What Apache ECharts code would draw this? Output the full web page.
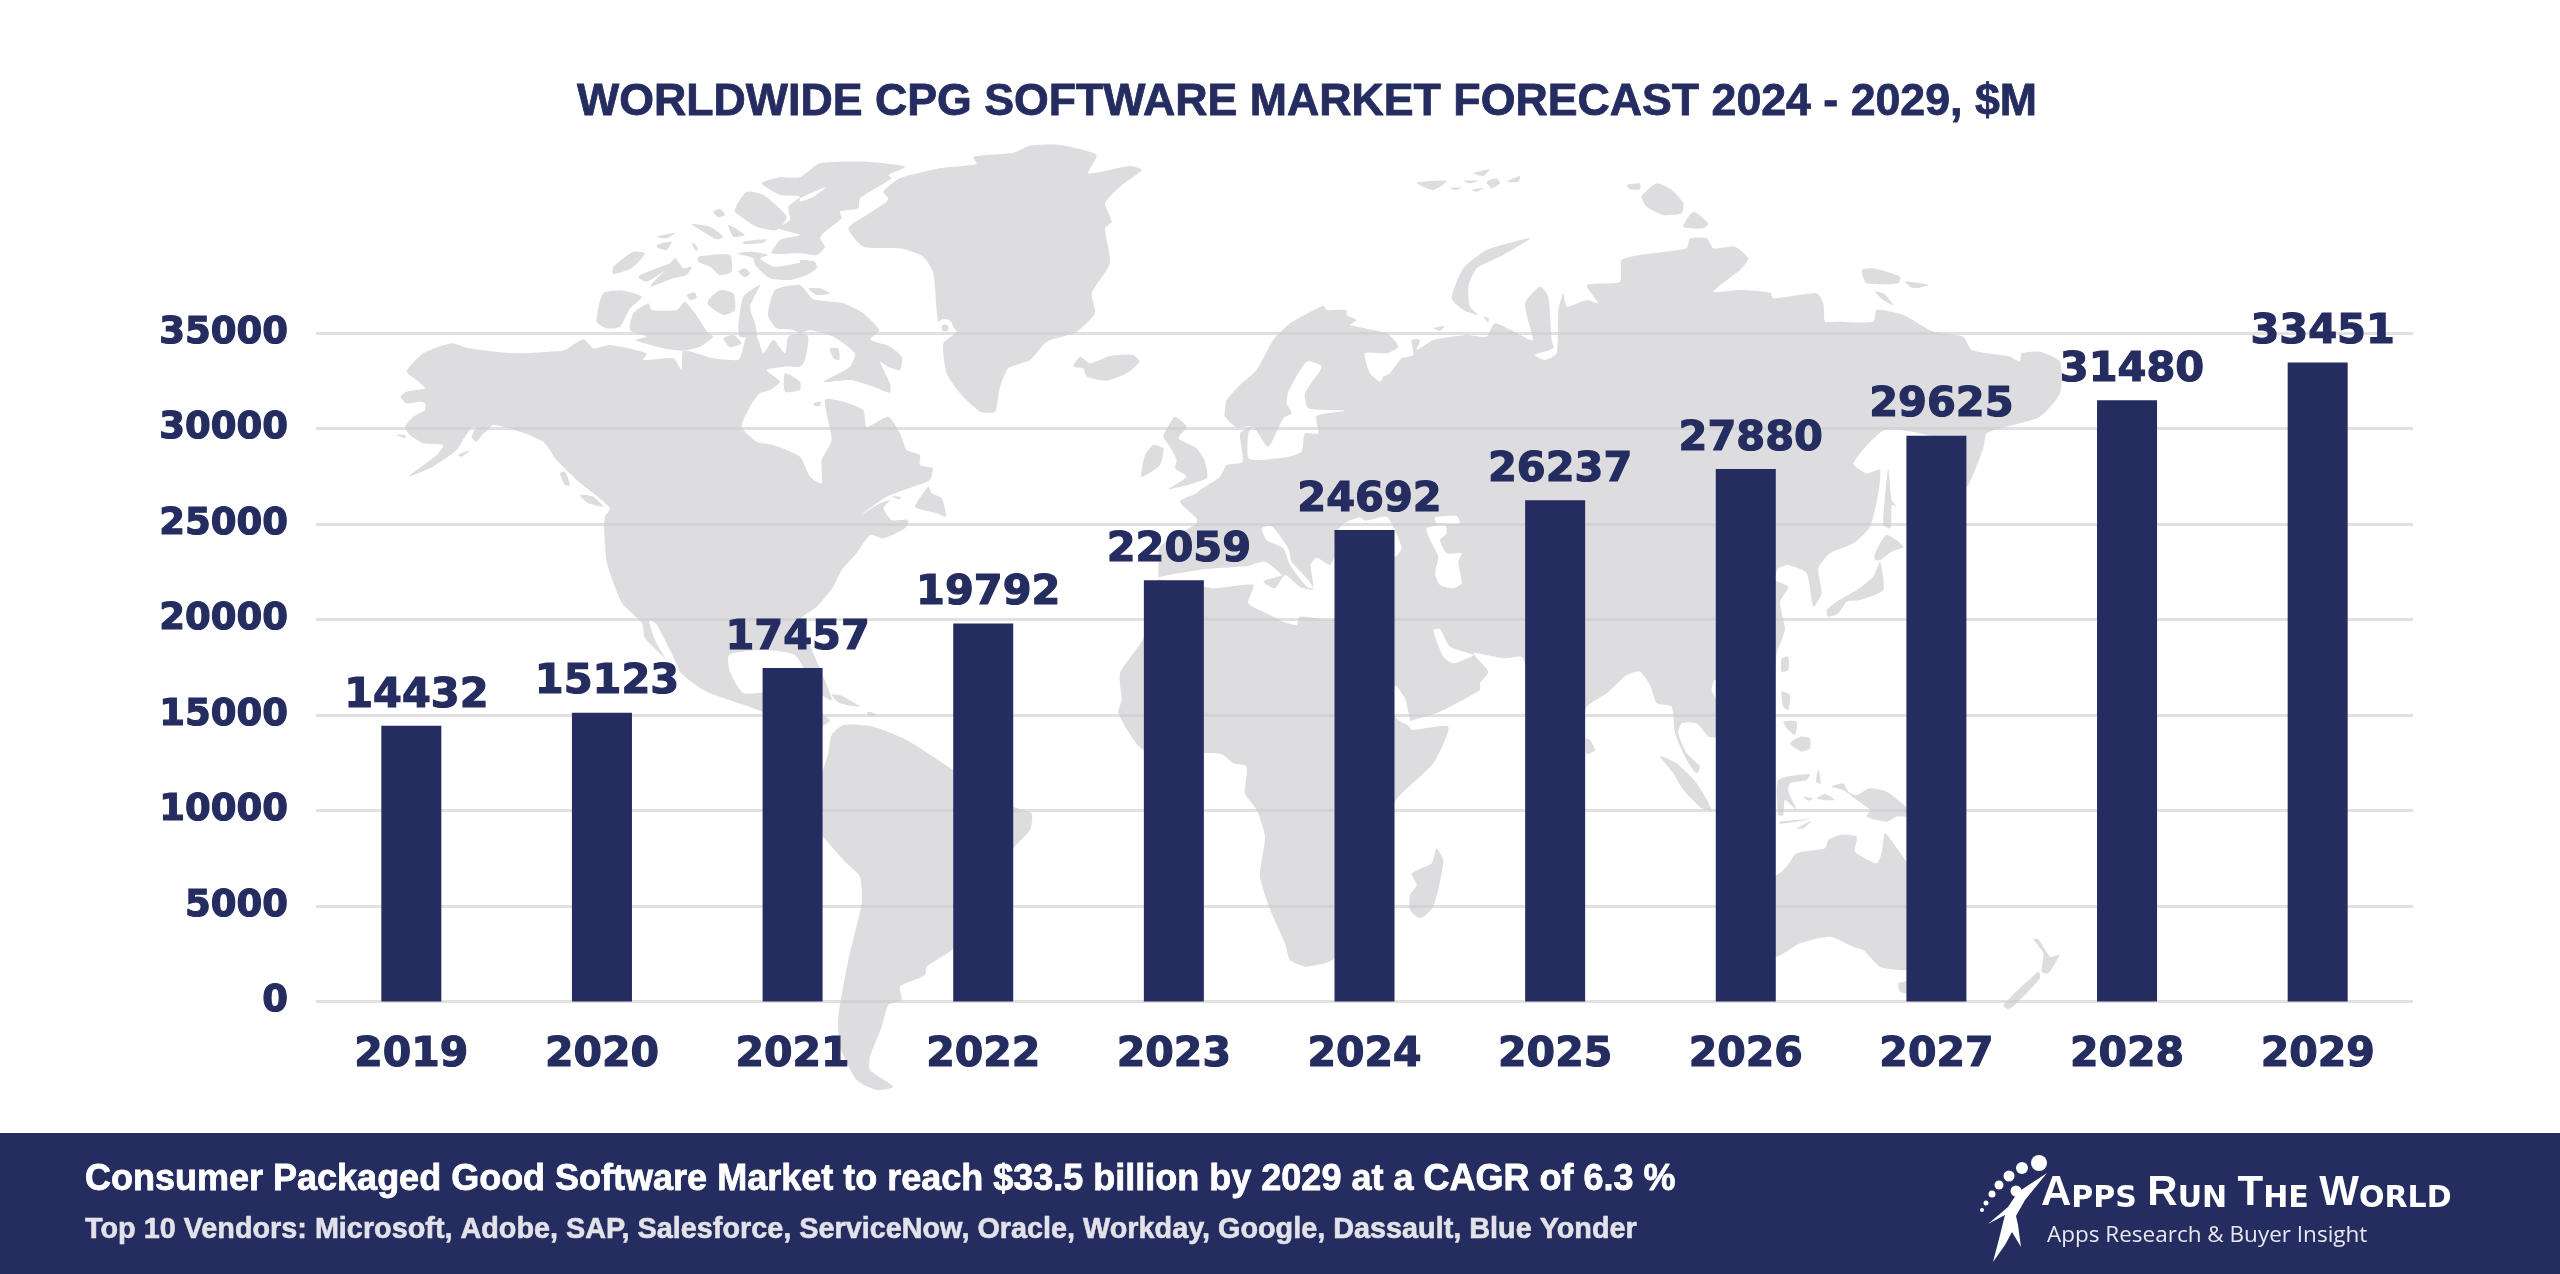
<!DOCTYPE html>
<html>
<head>
<meta charset="utf-8">
<title>Worldwide CPG Software Market Forecast</title>
<script src="https://cdn.jsdelivr.net/npm/echarts@6/dist/echarts.min.js"></script>
<style>
  html, body { margin: 0; padding: 0; background: #fff; }
  #chart { width: 2560px; height: 1274px; }
</style>
</head>
<body>
<div id="chart"></div>
<script>
const years = ['2019', '2020', '2021', '2022', '2023', '2024', '2025', '2026', '2027', '2028', '2029'];
const marketValues = [14432, 15123, 17457, 19792, 22059, 24692, 26237, 27880, 29625, 31480, 33451];
const chartTitle = 'WORLDWIDE CPG SOFTWARE MARKET FORECAST 2024 - 2029, $M';
const footerLine1 = 'Consumer Packaged Good Software Market to reach $33.5 billion by 2029 at a CAGR of 6.3 %';
const footerLine2 = 'Top 10 Vendors: Microsoft, Adobe, SAP, Salesforce, ServiceNow, Oracle, Workday, Google, Dassault, Blue Yonder';

const NAVY = '#242c60';
const LAND = '#dddcdf';

// background map, traced by hand. each block is [left, top] of a traced region at 3x
const A = [380, 140], B = [800, 140], C = [1220, 140], D = [1640, 140];
const E = [700, 620], F = [1100, 620], G = [1640, 620], H = [1100, 490], I = [1440, 540];
function at(o, pts) {
  return pts.map(p => [o[0] + p[0] / 3, o[1] + p[1] / 3]);
}

const northAmerica = [].concat(
  at(A, [[80,695],[130,640],[215,610],[265,625],[400,640],[510,635],[555,630],[610,598],[640,625],[690,615],[800,640],[790,660],[880,655],[905,690],[910,632],[1000,655],[1075,660],[1085,640],[1100,590],[1130,590],[1150,640],[1180,600],[1215,640],[1225,590],[1260,580]]),
  at(B, [[25,590],[15,660],[0,680]]),
  at(A, [[1215,680],[1160,690],[1200,725],[1170,750],[1140,760],[1110,800],[1085,860],[1130,905],[1180,915],[1260,950]]),
  at(B, [[30,1010],[65,1030],[65,960],[95,900],[75,780],[130,785],[190,810],[200,860],[265,830],[300,880],[320,930],[360,945],[360,975],[398,985],[390,1020],[340,1040],[260,1070],[175,1130],[240,1090],[270,1080],[250,1105],[275,1140],[325,1140],[315,1165],[250,1195],[210,1185],[170,1240],[125,1290],[100,1340],[50,1400],[0,1440]]),
  [[812,650],[832,700],[815,690],[795,655],[760,650],[729,655],[730,672],[743,693],[761,693],[790,700],[830,720],[800,735],[763,712],[707,692],[689,680],[667,660],[645,638],[642,623],[622,603],[607,563],[604,527]],
  at(A, [[675,1130],[690,1105],[640,1060],[590,1020],[530,960],[490,905],[420,875],[340,855],[310,880],[280,860],[255,890],[230,930],[190,960],[150,985],[85,1010],[170,945],[190,915],[130,910],[90,885],[75,860],[100,830],[135,810],[135,790],[120,785],[80,790],[62,770],[80,755],[135,745],[110,720]])
);

const arcticIslands = [
  at(A, [[650,545],[670,460],[730,452],[785,470],[750,505],[720,560],[680,565]]),
  at(A, [[750,570],[760,520],[805,490],[815,510],[890,510],[915,485],[945,520],[985,580],[1000,590],[960,620],[905,632],[850,625],[765,600],[800,590]]),
  at(A, [[1030,595],[1060,585],[1085,610],[1050,622]]),
  at(A, [[985,480],[1020,450],[1060,460],[1065,510],[1030,525],[985,495]]),
  at(A, [[920,465],[945,458],[950,475],[930,480]]),
  at(A, [[1075,560],[1090,470],[1140,435],[1110,500],[1125,550],[1130,590],[1080,590]]),
  at(A, [[1070,195],[1100,155],[1150,165],[1220,230],[1190,270],[1130,260],[1065,215]]),
  [].concat(
    at(A, [[1070,340],[1120,335],[1165,345],[1140,355],[1180,380],[1260,368]]),
    at(B, [[0,360],[45,365],[50,385],[20,405]]),
    at(A, [[1230,420],[1170,415],[1125,375],[1120,355]])
  ),
  at(A, [[1000,215],[1020,207],[1035,225],[1015,232]]),
  at(A, [[935,252],[990,260],[1030,290],[1010,298],[970,275]]),
  at(A, [[1045,255],[1095,285],[1060,290]]),
  at(A, [[1090,305],[1160,298],[1150,308],[1090,312]]),
  at(A, [[830,290],[885,278],[860,295]]),
  at(A, [[830,315],[875,305],[860,330],[835,325]]),
  at(A, [[935,310],[945,312],[955,330],[945,330]]),
  at(A, [[700,380],[760,335],[795,340],[755,385],[700,402]]),
  at(A, [[775,410],[830,385],[870,370],[885,355],[910,385],[935,380],[920,405],[880,415],[810,440],[850,395],[800,425]]),
  at(A, [[955,350],[1050,345],[1055,395],[1020,405],[990,380],[955,365]]),
  at(A, [[1075,395],[1095,385],[1110,400],[1095,412]]),
  at(A, [[1215,700],[1260,725],[1260,750],[1215,755]]),
  // Ellesmere
  [].concat(
    at(A, [[1145,130],[1200,112],[1260,112]]),
    at(B, [[60,70],[200,65],[315,80],[265,105],[275,115],[180,175],[175,205],[120,215],[125,235],[70,280],[60,295],[75,320],[50,345],[0,340]]),
    at(A, [[1175,340],[1200,300],[1260,285],[1195,265],[1230,240],[1225,200],[1260,170],[1200,165]])
  ),
  // Baffin
  [].concat(
    at(A, [[1165,510],[1185,450],[1260,435]]),
    at(B, [[40,478],[130,490],[190,520],[238,572],[210,598],[270,620],[305,650],[300,690],[265,680],[240,665],[270,730],[270,758],[220,740],[150,720],[72,725],[150,680],[165,640],[100,590],[30,570],[0,580]]),
    at(A, [[1240,570],[1190,565],[1165,530]])
  ),
  at(B, [[90,625],[115,625],[118,660],[100,655]]),
  at(B, [[25,445],[60,445],[90,460],[50,465]]),
  at(A, [[540,1000],[555,995],[570,1035],[555,1035]]),
  at(A, [[600,1065],[640,1070],[670,1100],[625,1090]]),
  at(A, [[275,890],[300,850],[320,860],[290,905]]),
  at(A, [[235,945],[270,930],[245,950]]),
  at(A, [[50,885],[75,885],[75,895]]),
  at(B, [[345,1100],[385,1040],[395,1060],[425,1075],[438,1130],[410,1120],[370,1110]]),
  at(B, [[275,1068],[305,1072],[295,1078]]),
  at(B, [[40,790],[62,785],[60,798],[45,798]]),
  at(E, [[395,225],[420,225],[480,260],[420,250]]),
  at(E, [[500,275],[525,280],[525,288],[505,285]])
];

const greenland = at(B, [[145,265],[200,225],[260,185],[265,175],[250,155],[300,115],[420,85],[530,72],[520,50],[640,38],[690,17],[780,15],[890,45],[865,100],[990,78],[1025,90],[960,140],[915,190],[935,245],[915,265],[930,370],[875,460],[885,520],[830,575],[740,605],[690,660],[625,685],[600,740],[585,815],[540,815],[480,760],[440,700],[430,610],[470,575],[440,545],[415,545],[400,400],[370,350],[300,325],[190,320]]);
const iceland = at(B, [[820,680],[840,650],[870,670],[930,648],[1000,645],[1018,665],[980,700],[920,722],[860,710],[850,685]]);
const britain = at(B, [[1125,830],[1160,860],[1135,895],[1190,925],[1215,965],[1220,1015],[1105,1048],[1160,1010],[1125,985],[1130,960],[1110,920],[1090,890],[1110,850]]);
const ireland = at(B, [[1060,915],[1090,925],[1080,975],[1025,1010],[1035,945]]);

const eurasiaAfrica = [].concat(
  at(C, [[0,1010],[20,975],[68,965],[60,880],[92,858],[50,862],[15,830],[15,810],[20,780],[60,735],[110,690],[160,600],[210,550],[310,497],[320,510],[380,510],[380,525],[410,540],[390,555],[500,580],[535,620],[500,640],[435,640],[450,700],[480,725],[490,710],[510,700],[545,655],[580,645],[575,600],[600,600],[590,630],[640,600],[740,585],[800,590],[825,550],[930,600],[940,600],[915,490],[960,440],[985,470],[995,600],[1000,625],[945,645],[975,660],[1010,640],[1015,510],[1030,460],[1040,500],[1100,480],[1135,490],[1100,435],[1200,425],[1205,360],[1260,345]]),
  at(D, [[140,325],[150,295],[200,295],[220,325],[285,320],[325,355],[300,390],[220,455],[300,450],[390,458],[400,475],[530,460],[550,490],[555,545],[590,545],[700,545],[710,510],[790,525],[880,575],[970,590],[995,630],[1110,650],[1140,665],[1145,640],[1200,635],[1260,665],[1260,760],[1200,830],[1100,860],[1040,880],[1030,925],[985,1035],[960,1040],[900,900],[735,870],[640,970],[680,1000],[720,990],[715,1060],[690,1160],[640,1210],[570,1240],[535,1285],[545,1360],[520,1400],[500,1300],[445,1275],[415,1285],[405,1320],[445,1340],[420,1385],[430,1440]]),
  at(G, [[435,30],[410,100],[400,170],[225,180],[215,210],[228,240],[228,350],[205,350],[170,310],[125,310],[115,340],[140,400],[180,440],[170,460],[140,420],[105,340],[95,260],[50,250],[30,195],[0,155]]),
  at(I, [[560,405],[500,460],[440,500],[420,560],[380,560],[300,450],[255,370],[245,350],[190,355],[100,340],[145,395],[120,430],[120,450],[0,515]]),
  at(F, [[940,300],[925,310],[935,330],[1045,320],[1000,430],[885,545],[800,780],[704,1015],[620,1040],[570,1020],[555,970],[515,880],[480,770],[495,650],[470,570],[435,520],[440,440],[400,430],[370,405],[345,400],[130,390],[55,280],[65,240],[60,160],[130,55]]),
  at(H, [[175,270],[175,235],[180,170],[290,100],[290,85],[240,35],[290,10]]),
  at(B, [[1200,1050]])
);

const southAmerica = at(E, [[395,345],[430,315],[520,320],[620,360],[760,450],[940,560],[995,580],[990,630],[940,685],[760,985],[680,1040],[675,1065],[600,1100],[605,1140],[565,1155],[545,1220],[510,1310],[510,1350],[580,1400],[530,1410],[470,1380],[420,1280],[415,1190],[445,1020],[485,850],[480,770],[440,730],[370,650],[340,600],[368,455],[385,400]]);

const asiaIslands = [
  at(C, [[695,475],[730,385],[800,330],[930,295],[850,345],[770,385],[745,440],[750,500],[775,525],[730,510]]),
  at(C, [[590,128],[680,122],[640,150]]),
  at(C, [[690,143],[725,143],[705,150]]),
  at(C, [[730,122],[775,122],[750,130]]),
  at(C, [[760,100],[810,88],[790,108]]),
  at(C, [[800,125],[830,115],[840,130],[815,145]]),
  at(C, [[860,125],[900,108],[895,125]]),
  at(C, [[755,150],[790,143],[770,155]]),
  at(C, [[640,565],[675,558],[660,572]]),
  at(C, [[790,530],[805,535],[805,548]]),
  at(C, [[1220,135],[1260,130],[1260,148],[1230,148]]),
  at(D, [[5,170],[50,130],[95,150],[130,190],[125,220],[70,225],[20,200]]),
  at(D, [[130,260],[160,215],[205,250],[190,265]]),
  at(D, [[665,390],[700,385],[780,410],[775,430],[680,430]]),
  at(D, [[795,425],[865,435],[820,445]]),
  at(D, [[705,455],[730,460],[760,495],[730,480]]),
  at(D, [[745,985],[755,1080],[770,1100],[755,1095],[752,1165],[730,1155],[735,1070]]),
  at(D, [[705,1240],[740,1185],[790,1220],[755,1235],[720,1260],[705,1260]]),
  at(D, [[720,1265],[730,1350],[660,1380],[620,1385],[595,1420],[565,1430],[560,1410],[590,1385],[650,1350],[700,1310]]),
  at(I, [[438,595],[450,600],[465,630],[445,642],[438,640]]),
  at(G, [[60,408],[110,430],[170,490],[215,570],[185,565],[130,510],[100,460]]),
  at(G, [[425,115],[445,110],[445,150],[425,155]]),
  at(G, [[425,215],[450,225],[445,270],[430,260]]),
  at(G, [[430,305],[470,305],[465,345],[445,330]]),
  at(G, [[450,370],[480,350],[510,355],[510,385],[485,395]]),
  at(G, [[415,480],[510,462],[500,480],[450,490],[445,515],[470,570],[435,540],[430,585],[415,585]]),
  at(G, [[535,448],[542,490],[528,485]]),
  at(G, [[490,530],[520,535],[505,542]]),
  at(G, [[530,535],[555,522],[585,540],[550,540]]),
  at(G, [[470,625],[515,602],[490,625]]),
  at(G, [[420,605],[510,598],[420,612]]),
  at(G, [[575,500],[610,490],[625,515],[650,525],[690,505],[740,515],[780,545],[830,590],[770,590],[740,605],[680,590],[690,570],[650,540],[610,510]]),
  at(G, [[300,800],[410,765],[440,740],[470,700],[555,685],[565,660],[600,645],[650,650],[645,695],[710,730],[725,700],[735,640],[775,690],[802,730],[880,850],[850,1020],[802,1050],[775,1050],[720,1040],[670,990],[650,985],[570,950],[480,970],[410,1010],[300,1000]]),
  at(G, [[775,1090],[810,1085],[810,1120],[780,1115]]),
  at(G, [[1090,1155],[1195,1055],[1200,1075],[1130,1150],[1105,1168]]),
  at(G, [[1180,958],[1195,958],[1230,1010],[1258,1005],[1225,1060],[1205,1055],[1210,1000]]),
  at(F, [[935,760],[995,730],[1010,685],[1030,725],[1000,860],[960,895],[930,870],[930,825],[950,795]]),
  at(H, [[645,320],[695,322],[660,328]])
];

// white seas cut out of the land
const seas = [
  at(H, [[170,265],[312,238],[445,228],[495,215],[545,255],[515,265],[490,275],[525,295],[555,255],[600,290],[640,298],[632,225],[650,203],[690,225],[705,200],[705,385],[600,380],[590,405],[550,395],[510,375],[445,340],[460,285],[345,295],[312,290]]),
  at(H, [[485,115],[515,108],[565,175],[575,215],[625,270],[640,295],[620,290],[570,225],[550,175],[500,150]]),
  at(H, [[735,98],[780,82],[795,92],[860,80],[880,110],[905,175],[885,200],[710,200],[710,125]]),
  at(H, [[980,115],[1035,105],[1040,130],[1020,150],[1040,190],[1085,190],[1075,215],[1085,280],[1060,295],[1020,285],[1005,250],[1015,200],[990,150]]),
  at(H, [[1005,82],[1070,78],[1080,100],[1010,100]]),
  at(H, [[1000,420],[1020,417],[1050,470],[1120,495],[1090,510],[1060,520],[1030,500]]),
  at(F, [[885,195],[915,235],[930,300],[935,320],[885,290]]),
  at(C, [[85,880],[100,860],[145,920],[190,835],[215,820],[200,790],[205,755],[260,665],[305,680],[255,760],[265,805],[375,812],[290,828],[295,880],[255,880],[245,935],[205,950],[120,960],[85,955]]),
  at(B, [[0,175],[80,140],[40,170],[0,185]]),
  [[649,620],[657,625],[680,672],[668,662],[655,640]]
];

function poly(points, fill, z) {
  return { type: 'polygon', silent: true, z: z, shape: { points: points, smooth: 0.2 }, style: { fill: fill } };
}

const mapGraphics = []
  .concat([northAmerica, greenland, iceland, britain, ireland, eurasiaAfrica, southAmerica].map(p => poly(p, LAND, -6)))
  .concat(arcticIslands.map(p => poly(p, LAND, -6)))
  .concat(asiaIslands.map(p => poly(p, LAND, -6)))
  .concat(seas.map(p => poly(p, '#fff', -5)))
  .concat([
    { type: 'circle', silent: true, z: -5, shape: { cx: 945, cy: 327, r: 8 }, style: { fill: '#fff' } },
    { type: 'circle', silent: true, z: -4, shape: { cx: 945, cy: 328, r: 3.5 }, style: { fill: LAND } }
  ]);

// footer band and logo
const logoDots = [[2039,1163,8],[2022,1168,6],[2009,1176,5.5],[1999,1185,4.5],[1992,1194,3.5],[1986,1203,2.5],[1982,1210,2],[2016,1191,5.5]];
const logoFigure = [[2047,1173],[2025,1200],[2016,1216],[2018,1225],[2021,1247],[2012,1232],[2005,1245],[1993,1262],[2000,1235],[2005,1215],[1988,1224],[2008,1207],[2018,1192]];

const footerGraphics = [
  { type: 'rect', silent: true, z: 5, shape: { x: 0, y: 1133, width: 2560, height: 141 }, style: { fill: NAVY } },
  { type: 'text', silent: true, z: 6, x: 85, y: 1180, style: { text: footerLine1, fill: '#fff', stroke: '#fff', lineWidth: 0.8, font: 'bold 36px "Liberation Sans"', textVerticalAlign: 'middle' } },
  { type: 'text', silent: true, z: 6, x: 85, y: 1230, style: { text: footerLine2, fill: '#e2e2e8', stroke: '#e2e2e8', lineWidth: 0.6, font: 'bold 28.8px "Liberation Sans"', textVerticalAlign: 'middle' } },
  { type: 'polygon', silent: true, z: 6, shape: { points: logoFigure }, style: { fill: '#fff' } }
].concat(logoDots.map(d => ({ type: 'circle', silent: true, z: 6, shape: { cx: d[0], cy: d[1], r: d[2] }, style: { fill: '#fff' } })))
.concat([
  {
    type: 'text', silent: true, z: 6, x: 2041, y: 1214,
    style: {
      text: '{b|A}{s|PPS }{b|R}{s|UN }{b|T}{s|HE }{b|W}{s|ORLD}',
      fill: '#fff', textVerticalAlign: 'bottom',
      rich: {
        b: { font: 'bold 42px "Liberation Sans"', fill: '#fff', verticalAlign: 'bottom' },
        s: { font: 'bold 30px "DejaVu Sans"', fill: '#fff', verticalAlign: 'bottom' }
      }
    }
  },
  { type: 'text', silent: true, z: 6, x: 2047, y: 1236, style: { text: 'Apps Research & Buyer Insight', fill: '#e8e8ee', font: '22.5px "Open Sans"', textVerticalAlign: 'middle' } }
]);

const chart = echarts.init(document.getElementById('chart'));
chart.setOption({
  animation: false,
  backgroundColor: '#ffffff',
  title: {
    text: chartTitle,
    left: 1302,
    top: 75,
    textAlign: 'center',
    textStyle: { color: NAVY, fontFamily: 'Liberation Sans', fontWeight: 'bold', fontSize: 44.7, textBorderColor: NAVY, textBorderWidth: 0.8 }
  },
  grid: { left: 316, right: 147, top: 333, bottom: 272.5 },
  xAxis: {
    type: 'category',
    data: years,
    axisLine: { show: false },
    axisTick: { show: false },
    axisLabel: { color: NAVY, fontFamily: 'DejaVu Sans', fontWeight: 'bold', fontSize: 41, margin: 33, textBorderColor: NAVY, textBorderWidth: 1.2 }
  },
  yAxis: {
    type: 'value',
    min: 0,
    max: 35000,
    interval: 5000,
    axisLine: { show: false },
    axisTick: { show: false },
    axisLabel: {
      formatter: value => String(value),
      color: NAVY, fontFamily: 'DejaVu Sans', fontWeight: 'bold', fontSize: 37, margin: 28,
      padding: [3, 0, 0, 0], textBorderColor: NAVY, textBorderWidth: 1.2
    },
    splitLine: { lineStyle: { color: 'rgba(205,205,208,0.6)', width: 3 } }
  },
  series: [{
    type: 'bar',
    data: marketValues,
    barWidth: 60,
    itemStyle: { color: NAVY },
    label: {
      show: true,
      position: 'top',
      distance: 9,
      offset: [5, 0],
      color: NAVY,
      fontFamily: 'DejaVu Sans',
      fontWeight: 'bold',
      fontSize: 41.5,
      textBorderColor: NAVY,
      textBorderWidth: 1.2
    }
  }],
  graphic: { elements: mapGraphics.concat(footerGraphics) }
});
</script>
</body>
</html>
